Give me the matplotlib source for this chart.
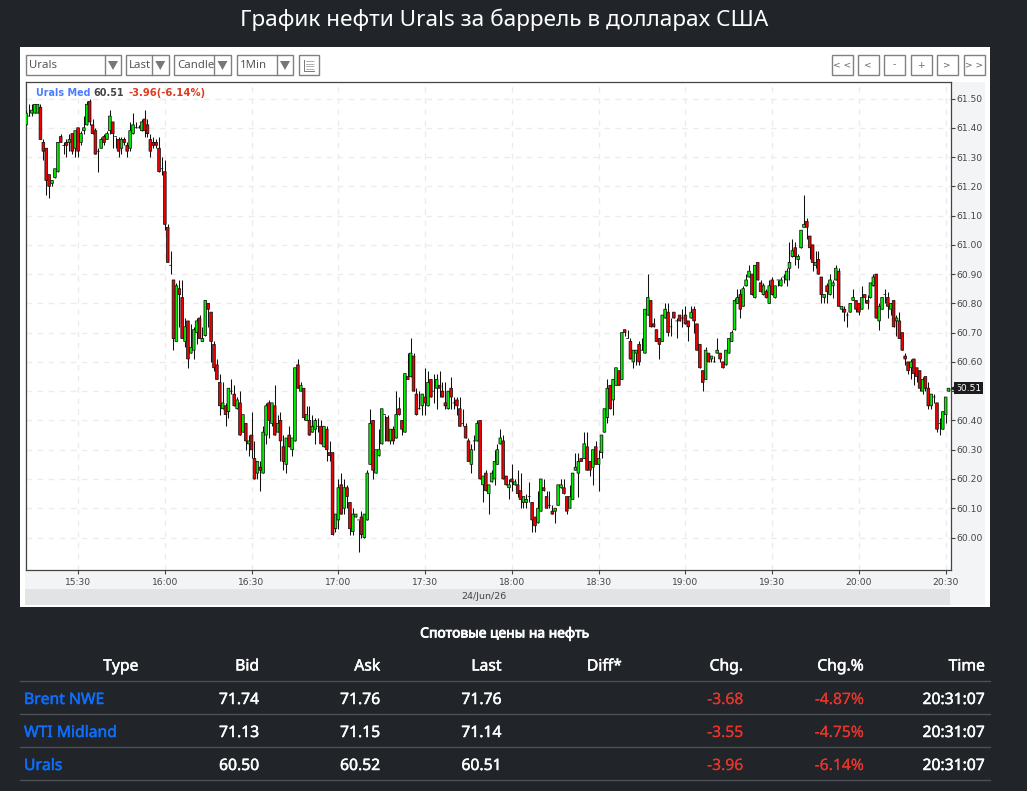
import matplotlib
matplotlib.use('Agg')
import matplotlib.pyplot as plt
import matplotlib.patheffects as pe
from matplotlib.patches import Rectangle, Polygon
from matplotlib.transforms import blended_transform_factory
import numpy as np

# 1 minute candles of Urals, 15:12 -> 20:31
opens = [
    61.41,61.44,61.45,61.45,61.45,61.47,61.35,61.33,61.24,61.21,
    61.23,61.25,61.37,61.34,61.35,61.35,61.38,61.33,61.40,61.35,
    61.39,61.41,61.49,61.41,61.39,61.32,61.33,61.37,61.36,61.39,
    61.42,61.37,61.36,61.33,61.36,61.34,61.33,61.38,61.40,61.40,
    61.39,61.43,61.41,61.36,61.35,61.35,61.33,61.26,61.25,61.06,
    60.93,60.88,60.67,60.85,60.82,60.67,60.74,60.63,60.64,60.70,
    60.75,60.67,60.69,60.80,60.77,60.66,60.59,60.53,60.44,60.45,
    60.43,60.50,60.49,60.44,60.46,60.36,60.39,60.32,60.35,60.27,
    60.22,60.24,60.22,60.35,60.46,60.39,60.45,60.36,60.40,60.31,
    60.25,60.35,60.30,60.33,60.59,60.50,60.51,60.40,60.40,60.36,
    60.37,60.38,60.38,60.31,60.37,60.29,60.29,60.03,60.06,60.18,
    60.10,60.17,60.12,60.02,60.07,60.06,60.07,60.00,60.06,60.25,
    60.40,60.22,60.28,60.32,60.42,60.41,60.33,60.37,60.34,60.44,
    60.40,60.36,60.55,60.55,60.62,60.49,60.44,60.45,60.48,60.45,
    60.54,60.50,60.51,60.52,60.50,60.46,60.44,60.51,60.46,60.47,
    60.44,60.39,60.38,60.33,60.25,60.33,60.33,60.40,60.18,60.22,
    60.15,60.19,60.20,60.25,60.32,60.33,60.21,60.17,60.20,60.18,
    60.18,60.16,60.12,60.12,60.14,60.12,60.07,60.05,60.09,60.17,
    60.14,60.11,60.09,60.09,60.11,60.17,60.17,60.14,60.10,60.13,
    60.23,60.22,60.27,60.27,60.31,60.26,60.24,60.31,60.25,60.29,
    60.36,60.41,60.52,60.47,60.52,60.57,60.54,60.71,60.68,60.67,
    60.60,60.63,60.66,60.64,60.63,60.76,60.81,60.73,60.71,60.68,
    60.67,60.75,60.77,60.72,60.77,60.74,60.76,60.75,60.76,60.74,
    60.75,60.78,60.73,60.66,60.57,60.54,60.63,60.61,60.60,60.63,
    60.63,60.60,60.59,60.63,60.67,60.71,60.80,60.83,60.79,60.86,
    60.89,60.90,60.82,60.94,60.87,60.83,60.84,60.80,60.88,60.82,
    60.88,60.86,60.89,60.88,60.92,60.96,60.99,60.95,60.99,61.06,
    61.08,61.03,61.00,60.93,60.95,60.89,60.82,60.86,60.83,60.86,
    60.88,60.91,60.78,60.78,60.76,60.77,60.81,60.81,60.80,60.78,
    60.83,60.81,60.82,60.86,60.90,60.74,60.78,60.83,60.82,60.78,
    60.81,60.74,60.74,60.70,60.62,60.60,60.58,60.61,60.58,60.57,
    60.50,60.55,60.51,60.45,60.48,60.46,60.39,60.37,60.42,60.50,
]
highs = [
    61.46,61.48,61.48,61.48,61.48,61.48,61.36,61.33,61.24,61.22,
    61.26,61.35,61.38,61.35,61.36,61.38,61.38,61.39,61.40,61.39,
    61.44,61.49,61.50,61.43,61.40,61.33,61.37,61.38,61.39,61.46,
    61.42,61.37,61.37,61.37,61.37,61.35,61.42,61.45,61.42,61.41,
    61.43,61.46,61.43,61.38,61.37,61.36,61.37,61.30,61.29,61.07,
    60.98,60.88,60.87,60.88,60.88,60.75,60.74,60.73,60.72,60.75,
    60.76,60.72,60.81,60.80,60.77,60.67,60.61,60.56,60.53,60.46,
    60.51,60.54,60.52,60.48,60.50,60.42,60.39,60.35,60.43,60.33,
    60.26,60.26,60.38,60.46,60.47,60.46,60.52,60.42,60.43,60.35,
    60.34,60.38,60.34,60.58,60.61,60.53,60.51,60.45,60.45,60.42,
    60.41,60.41,60.40,60.38,60.38,60.33,60.29,60.08,60.20,60.22,
    60.20,60.18,60.12,60.10,60.08,60.06,60.09,60.08,60.23,60.44,
    60.40,60.30,60.37,60.44,60.42,60.42,60.37,60.38,60.50,60.48,
    60.40,60.56,60.63,60.68,60.63,60.51,60.50,60.49,60.58,60.57,
    60.54,60.56,60.56,60.57,60.53,60.53,60.50,60.55,60.48,60.48,
    60.48,60.44,60.39,60.34,60.32,60.35,60.40,60.40,60.21,60.23,
    60.18,60.23,60.30,60.32,60.37,60.35,60.21,60.20,60.25,60.20,
    60.23,60.22,60.14,60.15,60.19,60.12,60.07,60.16,60.20,60.20,
    60.16,60.16,60.11,60.10,60.18,60.20,60.20,60.14,60.18,60.22,
    60.29,60.29,60.27,60.36,60.36,60.26,60.30,60.33,60.30,60.35,
    60.44,60.54,60.52,60.54,60.58,60.57,60.70,60.71,60.71,60.68,
    60.64,60.64,60.67,60.68,60.78,60.90,60.81,60.75,60.71,60.68,
    60.76,60.80,60.80,60.75,60.77,60.75,60.76,60.78,60.79,60.74,
    60.79,60.79,60.73,60.66,60.57,60.65,60.63,60.62,60.62,60.68,
    60.63,60.60,60.64,60.68,60.71,60.82,60.85,60.85,60.86,60.90,
    60.93,60.90,60.93,60.94,60.88,60.87,60.85,60.88,60.89,60.86,
    60.88,60.89,60.90,60.92,61.01,61.02,61.01,60.97,61.05,61.17,
    61.09,61.03,61.00,60.98,60.98,60.89,60.83,60.87,60.90,60.88,
    60.93,60.92,60.79,60.79,60.77,60.80,60.85,60.81,60.80,60.86,
    60.83,60.83,60.87,60.90,60.90,60.80,60.82,60.85,60.84,60.80,
    60.81,60.76,60.77,60.70,60.63,60.60,60.61,60.61,60.58,60.57,
    60.55,60.55,60.53,60.49,60.49,60.46,60.41,60.43,60.48,60.51,
]
lows = [
    61.41,61.44,61.44,61.45,61.45,61.36,61.29,61.17,61.16,61.20,
    61.23,61.25,61.35,61.31,61.30,61.32,61.31,61.30,61.30,61.34,
    61.38,61.41,61.41,61.38,61.31,61.25,61.33,61.34,61.36,61.38,
    61.33,61.33,61.30,61.31,61.34,61.30,61.32,61.38,61.40,61.40,
    61.39,61.37,61.37,61.30,61.33,61.33,61.25,61.24,61.05,60.94,
    60.90,60.64,60.67,60.72,60.68,60.65,60.58,60.63,60.61,60.66,
    60.68,60.67,60.69,60.72,60.60,60.57,60.54,60.42,60.44,60.38,
    60.41,60.49,60.45,60.44,60.35,60.36,60.30,60.28,60.27,60.20,
    60.20,60.16,60.22,60.32,60.34,60.38,60.35,60.36,60.26,60.23,
    60.22,60.31,60.28,60.33,60.51,60.50,60.40,60.40,60.35,60.36,
    60.32,60.36,60.32,60.31,60.26,60.26,60.01,60.02,60.03,60.08,
    60.08,60.10,60.01,60.01,60.07,59.95,60.00,60.00,60.06,60.25,
    60.20,60.22,60.28,60.32,60.33,60.33,60.32,60.32,60.34,60.42,
    60.35,60.36,60.54,60.55,60.50,60.42,60.44,60.42,60.42,60.45,
    60.48,60.46,60.44,60.48,60.48,60.44,60.44,60.44,60.44,60.42,
    60.38,60.38,60.34,60.26,60.22,60.30,60.33,60.20,60.12,60.16,
    60.08,60.19,60.18,60.25,60.32,60.20,60.18,60.13,60.16,60.18,
    60.14,60.10,60.10,60.10,60.12,60.02,60.02,60.05,60.09,60.16,
    60.10,60.10,60.08,60.05,60.11,60.17,60.15,60.08,60.10,60.13,
    60.23,60.14,60.26,60.27,60.23,60.21,60.18,60.25,60.16,60.27,
    60.36,60.39,60.44,60.42,60.52,60.52,60.54,60.69,60.68,60.61,
    60.58,60.59,60.59,60.64,60.63,60.76,60.72,60.72,60.67,60.61,
    60.67,60.75,60.69,60.69,60.75,60.68,60.74,60.72,60.73,60.67,
    60.75,60.70,60.64,60.58,60.50,60.54,60.60,60.60,60.60,60.63,
    60.60,60.58,60.59,60.63,60.67,60.71,60.80,60.75,60.79,60.86,
    60.89,60.83,60.82,60.88,60.84,60.83,60.82,60.80,60.83,60.82,
    60.86,60.86,60.87,60.86,60.88,60.96,60.93,60.92,60.99,61.06,
    61.02,60.95,60.91,60.92,60.90,60.80,60.80,60.80,60.83,60.82,
    60.88,60.79,60.77,60.74,60.72,60.77,60.81,60.77,60.76,60.78,
    60.80,60.78,60.82,60.86,60.75,60.71,60.78,60.80,60.75,60.76,
    60.72,60.69,60.68,60.64,60.59,60.56,60.54,60.52,60.53,60.50,
    60.49,60.50,60.44,60.44,60.46,60.36,60.35,60.37,60.39,60.50,
]
closes = [
    61.45,61.44,61.46,61.48,61.48,61.36,61.32,61.22,61.20,61.22,
    61.26,61.35,61.35,61.34,61.34,61.36,61.32,61.39,61.32,61.38,
    61.40,61.48,61.42,61.38,61.31,61.32,61.36,61.35,61.38,61.44,
    61.38,61.37,61.32,61.36,61.35,61.32,61.39,61.41,61.40,61.40,
    61.42,61.39,61.38,61.32,61.34,61.34,61.25,61.26,61.07,60.94,
    60.93,60.68,60.86,60.83,60.68,60.72,60.61,60.65,60.71,60.74,
    60.68,60.68,60.81,60.78,60.67,60.58,60.54,60.45,60.46,60.42,
    60.51,60.50,60.45,60.47,60.35,60.42,60.33,60.33,60.30,60.20,
    60.26,60.23,60.36,60.45,60.40,60.46,60.35,60.39,60.33,60.26,
    60.34,60.31,60.34,60.58,60.51,60.52,60.41,60.42,60.35,60.38,
    60.40,60.38,60.32,60.38,60.30,60.28,60.01,60.08,60.17,60.08,
    60.17,60.14,60.03,60.08,60.08,60.06,60.01,60.08,60.22,60.39,
    60.23,60.30,60.30,60.44,60.42,60.33,60.37,60.33,60.42,60.42,
    60.37,60.56,60.54,60.63,60.50,60.42,60.44,60.49,60.46,60.53,
    60.48,60.50,60.54,60.51,60.48,60.45,60.50,60.48,60.46,60.45,
    60.38,60.39,60.34,60.26,60.30,60.33,60.39,60.20,60.21,60.16,
    60.18,60.22,60.26,60.30,60.34,60.20,60.18,60.18,60.19,60.19,
    60.15,60.13,60.14,60.13,60.14,60.06,60.04,60.10,60.20,60.16,
    60.10,60.11,60.08,60.10,60.18,60.18,60.15,60.09,60.14,60.22,
    60.24,60.26,60.26,60.32,60.23,60.23,60.30,60.25,60.27,60.35,
    60.44,60.51,60.44,60.54,60.58,60.52,60.70,60.70,60.68,60.61,
    60.64,60.64,60.60,60.64,60.78,60.82,60.72,60.72,60.67,60.66,
    60.76,60.78,60.70,60.72,60.75,60.74,60.74,60.75,60.73,60.72,
    60.77,60.74,60.64,60.58,60.53,60.64,60.60,60.62,60.60,60.64,
    60.61,60.58,60.64,60.68,60.70,60.81,60.82,60.78,60.85,60.88,
    60.91,60.83,60.93,60.88,60.84,60.86,60.82,60.86,60.83,60.86,
    60.88,60.88,60.89,60.91,60.94,60.98,60.96,60.96,61.05,61.07,
    61.06,60.99,60.94,60.94,60.90,60.83,60.83,60.84,60.88,60.87,
    60.92,60.79,60.79,60.77,60.76,60.80,60.82,60.78,60.77,60.82,
    60.82,60.80,60.87,60.89,60.75,60.79,60.82,60.83,60.79,60.80,
    60.72,60.75,60.68,60.64,60.61,60.57,60.60,60.56,60.55,60.51,
    60.54,60.51,60.45,60.49,60.48,60.37,60.39,60.43,60.48,60.51,
]

price_ticks = [60.00, 60.10, 60.20, 60.30, 60.40, 60.50, 60.60, 60.70, 60.80, 60.90,
               61.00, 61.10, 61.20, 61.30, 61.40, 61.50]
time_ticks = [18, 48, 78, 108, 138, 168, 198, 228, 258, 288, 318]
time_labels = ['15:30', '16:00', '16:30', '17:00', '17:30', '18:00', '18:30', '19:00',
               '19:30', '20:00', '20:30']

title = 'График нефти Urals за баррель в долларах США'
table_title = 'Спотовые цены на нефть'
table_cols = ['Type', 'Bid', 'Ask', 'Last', 'Diff*', 'Chg.', 'Chg.%', 'Time']
table_names = ['Brent NWE', 'WTI Midland', 'Urals']
bid = ['71.74', '71.13', '60.50']
ask = ['71.76', '71.15', '60.52']
last = ['71.76', '71.14', '60.51']
chg = ['-3.68', '-3.55', '-3.96']
chg_pct = ['-4.87%', '-4.75%', '-6.14%']
quote_time = ['20:31:07', '20:31:07', '20:31:07']

DARK = '#212529'
W, H = 1027, 791
fig = plt.figure(figsize=(W / 100, H / 100), dpi=100, facecolor=DARK)

# page layer in pixels, y going down
page = fig.add_axes([0, 0, 1, 1], zorder=0)
page.set_xlim(0, W)
page.set_ylim(H, 0)
page.axis('off')


def box(x0, y0, x1, y1, **kw):
    page.add_patch(Rectangle((x0, y0), x1 - x0, y1 - y0, **kw))


def txt(x, y, s, **kw):
    kw.setdefault('va', 'center')
    kw.setdefault('family', 'Noto Sans')
    page.text(x, y, s, **kw)


def medium(x, y, s, color='white', stroke=0.35, **kw):
    # no medium weight in the font, thicken it a little
    kw.setdefault('fontsize', 11.3)
    txt(x, y, s, color=color, path_effects=[pe.withStroke(linewidth=stroke, foreground=color)], **kw)


txt(504.5, 19.5, title, color='white', fontsize=16.25, ha='center')

box(20, 47, 990, 606.5, fc='white', ec='none')
box(25, 82, 985, 605, fc='#f3f4f6', ec='none')
box(25, 589, 950, 605, fc='#e2e3e5', ec='none')
txt(484, 596.5, '24/Jun/26', color='#444444', fontsize=6.8, ha='center', family='DejaVu Sans')

# toolbar
GREY = '#808080'
combos = [(25.5, 121, 105, 'Urals'), (125.5, 168.5, 152, 'Last'),
          (173.5, 231, 214, 'Candle'), (236.5, 293, 277, '1Min')]
for x0, x1, sep, label in combos:
    box(x0, 54.5, x1, 75, fc='white', ec=GREY, lw=1)
    page.plot([sep, sep], [54.5, 75], color=GREY, lw=1)
    txt(x0 + 3.5, 65.5, label, color='#555555', fontsize=8.2)
    mid = (sep + x1) / 2
    page.add_patch(Polygon([(mid - 5, 61), (mid + 5, 61), (mid, 70)], fc='#777777', ec='none'))
box(298.5, 54.5, 319, 75, fc='white', ec=GREY, lw=1)
for yy in (61, 63.5, 66, 68.5):
    page.plot([306, 314], [yy, yy], color='#777777', lw=0.6, ls=(0, (1.6, 0.7)))
page.plot([304, 304, 314], [60, 70.5, 70.5], color='#777777', lw=0.7)

nav_x = [831.5, 857.5, 883.5, 910.5, 936.5, 963.5]
nav_lab = ['< <', '<', '-', '+', '>', '> >']
for xx, label in zip(nav_x, nav_lab):
    box(xx, 54.5, xx + 21, 75, fc='white', ec=GREY, lw=1)
    txt(xx + 10.5, 65, label, color='#666666', fontsize=6.5, ha='center', family='DejaVu Sans')

# candle chart
left, right, top, bottom = 25.5, 951.3, 82.3, 569.5
ax = fig.add_axes([left / W, 1 - bottom / H, (right - left) / W, (bottom - top) / H], zorder=2)
px_per_bar = 2.892
px_per_unit = (537.5 - 98.5) / 1.5
ax.set_xlim((left - 26) / px_per_bar, (right - 26) / px_per_bar)
ax.set_ylim(60.0 - (bottom - 537.5) / px_per_unit, 61.5 + (98.5 - top) / px_per_unit)
ax.set_facecolor('white')

idx = np.arange(len(opens))
o, h, l, c = map(np.array, (opens, highs, lows, closes))
up = c >= o

ax.vlines(idx, l, h, color='#111111', lw=0.75, zorder=3)
# snapping made some bodies 2px and ate the fill
ax.bar(idx[up], (c - o)[up], bottom=o[up], width=0.92, color='#00f000',
       edgecolor='#111111', linewidth=0.55, zorder=4, snap=False)
ax.bar(idx[~up], (c - o)[~up], bottom=o[~up], width=0.92, color='#f00000',
       edgecolor='#111111', linewidth=0.55, zorder=4, snap=False)

# 60.50 sits under the last price tag
ax.set_yticks(price_ticks)
ax.set_yticklabels(['' if p == 60.50 else '%.2f' % p for p in price_ticks])
ax.set_xticks(time_ticks)
ax.set_xticklabels(time_labels)
ax.yaxis.tick_right()
ax.tick_params(axis='y', length=3, width=0.8, color='#444444', labelcolor='#444444',
               labelsize=6.6, pad=1)
ax.tick_params(axis='x', length=3, width=0.8, color='#444444', labelcolor='#444444',
               labelsize=6.6, pad=3)
ax.grid(True, color='#ececec', lw=1, ls=(0, (4, 4)), zorder=1)
ax.set_axisbelow(True)
for s in ax.spines.values():
    s.set_color('#444444')
    s.set_linewidth(0.9)

# last price tag
tr = blended_transform_factory(ax.transAxes, ax.transData)
ax.text(1.0045, closes[-1], '%.2f' % closes[-1], transform=tr, color='white', fontsize=6.6,
        va='center', ha='left', zorder=6,
        bbox=dict(fc='#1c1c1c', ec='none', boxstyle='square,pad=0.15'))
ax.plot([1.0028], [closes[-1]], marker='<', ms=5, color='#1c1c1c', transform=tr, clip_on=False, zorder=6)

# header over the chart
page_over = fig.add_axes([0, 0, 1, 1], zorder=3)
page_over.set_xlim(0, W)
page_over.set_ylim(H, 0)
page_over.axis('off')
page_over.text(35.5, 93, 'Urals Med', color='#4a7dff', fontsize=6.9, weight='bold', va='center')
page_over.text(93.7, 93, '60.51', color='#444444', fontsize=6.9, weight='bold', va='center')
page_over.text(128.7, 93, '-3.96(-6.14%)', color='#dd3b1e', fontsize=7.2, weight='bold', va='center')

# quotes table
medium(504.5, 634, table_title, stroke=0.6, fontsize=10, ha='center')
col_right = [138.3, 259.3, 380.3, 501.7, 622, 743.3, 864, 985]
for xx, label in zip(col_right, table_cols):
    medium(xx, 666.5, label, ha='right')
for yy in (681.3, 714.3, 747.3, 780.3):
    page.plot([20, 990], [yy, yy], color='#4c5055', lw=1)
row_y = [700, 733, 766]
RED = '#e8352b'
for i, yy in enumerate(row_y):
    medium(24, yy, table_names[i], color='#0d6efd')
    medium(col_right[1], yy, bid[i], ha='right')
    medium(col_right[2], yy, ask[i], ha='right')
    medium(col_right[3], yy, last[i], ha='right')
    medium(col_right[5], yy, chg[i], color=RED, stroke=0.1, ha='right')
    medium(col_right[6], yy, chg_pct[i], color=RED, stroke=0.1, ha='right')
    medium(col_right[7], yy, quote_time[i], ha='right')

fig.savefig('out.png', dpi=100, facecolor=DARK)
